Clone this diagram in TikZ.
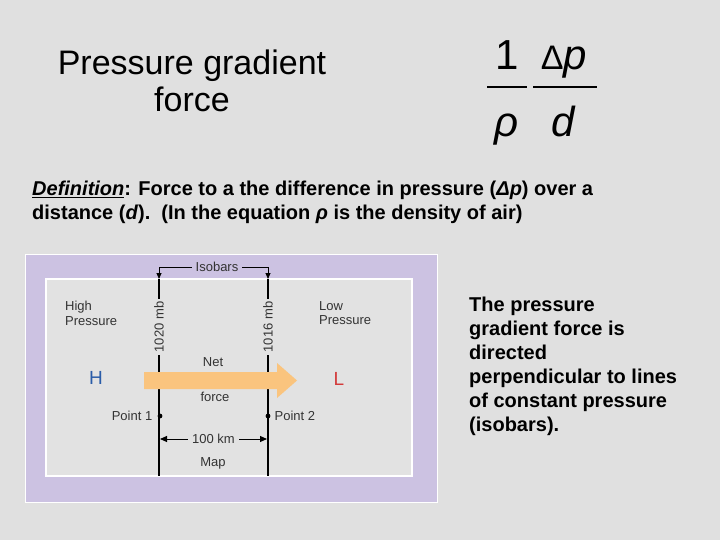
\documentclass[tikz,border=0pt]{standalone}
\usepackage{fontspec}
\setmainfont{Liberation Sans}
\usetikzlibrary{arrows.meta}
\definecolor{bg}{HTML}{E0E0E0}
\definecolor{lav}{HTML}{CCC2E2}
\definecolor{mapbg}{HTML}{E2E2E2}
\definecolor{arrowor}{HTML}{FAC47E}
\definecolor{hblue}{HTML}{2A5CA8}
\definecolor{lred}{HTML}{D33A3A}
\definecolor{dgray}{HTML}{333333}
\begin{document}
\begin{tikzpicture}[x=1pt,y=-1pt,
  titletext/.style={font=\fontsize{34}{37}\selectfont, align=center, inner sep=0, anchor=north},
  bodyline/.style={font=\fontsize{20}{24}\selectfont\bfseries, inner sep=0, anchor=base west},
  bodypara/.style={font=\fontsize{20}{24}\selectfont\bfseries, align=left, inner sep=0, anchor=north west},
  eqtext/.style={font=\fontsize{42}{42}\selectfont, inner sep=0, anchor=base},
  fracbar/.style={line width=2.2},
  maplabel/.style={font=\fontsize{13}{14.5}\selectfont, text=dgray, inner sep=1.5},
  isobar/.style={line width=1.8, black},
  tiny/.style={line width=0.8, black},
  bigletter/.style={font=\fontsize{19}{19}\selectfont, inner sep=0}
]
% background
\fill[bg] (0,0) rectangle (720,540);
\useasboundingbox (0,0) rectangle (720,540);

% title
\node[titletext] (title) at (192,50) {Pressure gradient\\force};

% equation
\node[eqtext] (one) at (507,70) {1};
\node[eqtext] (dp) at (564,70) {{\fontsize{34}{34}\selectfont Δ}\textit{p}};
\node[eqtext] (rho) at (507,137) {\textit{ρ}};
\node[eqtext] (dd) at (564,137) {\textit{d}};
\coordinate (b1l) at (487,87); \coordinate (b1r) at (527,87);
\coordinate (b2l) at (533,87); \coordinate (b2r) at (597,87);
\draw[fracbar] (b1l) -- (b1r);
\draw[fracbar] (b2l) -- (b2r);

% definition
\node[bodyline] (def1) at (32,196) {\textit{\underline{Definition}}: Force to a the difference in pressure (\textit{Δp}) over a};
\node[bodyline] (def2) at (32,220) {distance (\textit{d}).\ \ (In the equation \textit{ρ} is the density of air)};

% right text
\node[bodypara] (side) at (469,296.5) {The pressure\\gradient force is\\directed\\perpendicular to lines\\of constant pressure\\(isobars).};

% diagram frames
\draw[white, line width=1, fill=lav] (25,254) rectangle (437,502);
\draw[white, line width=1.5, fill=mapbg] (46,279) rectangle (412,476);

% isobars
\coordinate (i1t) at (159,279); \coordinate (i1b) at (159,476);
\coordinate (i2t) at (268,279); \coordinate (i2b) at (268,476);
\coordinate (bl) at (159,267); \coordinate (br) at (268,267);
\draw[isobar] (i1t) -- (i1b);
\draw[isobar] (i2t) -- (i2b);
\draw[tiny, {Triangle[width=5,length=6]}-{Triangle[width=5,length=6]}] (i1t) -- (bl) -- (br) -- (i2t);
\node[maplabel, fill=lav, inner xsep=4] (isob) at (217,267) {Isobars};
\node[maplabel, fill=mapbg, rotate=90, inner sep=3] (p1020) at (159,327) {1020 mb};
\node[maplabel, fill=mapbg, rotate=90, inner sep=3] (p1016) at (268,327) {1016 mb};

% pressure labels
\node[maplabel, align=left, anchor=north west, inner sep=0] (high) at (65,301) {High\\Pressure};
\node[maplabel, align=left, anchor=north west, inner sep=0] (low) at (319,301) {Low\\Pressure};
\node[bigletter, text=hblue] (H) at (96,378) {H};
\node[bigletter, text=lred] (L) at (339,379) {L};

% net force arrow
\fill[arrowor] (144,372) -- (277,372) -- (277,363) -- (297,380.5) -- (277,398) -- (277,389) -- (144,389) -- cycle;
\node[maplabel] (net) at (213,362) {Net};
\node[maplabel] (force) at (215,397) {force};

% points
\fill (160,416) circle (2.4);
\fill (268,416) circle (2.4);
\node[maplabel, anchor=east] (pt1) at (154,416) {Point 1};
\node[maplabel, anchor=west] (pt2) at (273,416) {Point 2};

% distance
\coordinate (d1) at (160,439); \coordinate (d2) at (267,439);
\draw[tiny, line width=1, {Triangle[width=6,length=7]}-{Triangle[width=6,length=7]}] (d1) -- (d2) node[midway, maplabel, fill=mapbg, inner xsep=4] (km) {100 km};
\node[maplabel] (map) at (213,463) {Map};
\end{tikzpicture}
\end{document}
